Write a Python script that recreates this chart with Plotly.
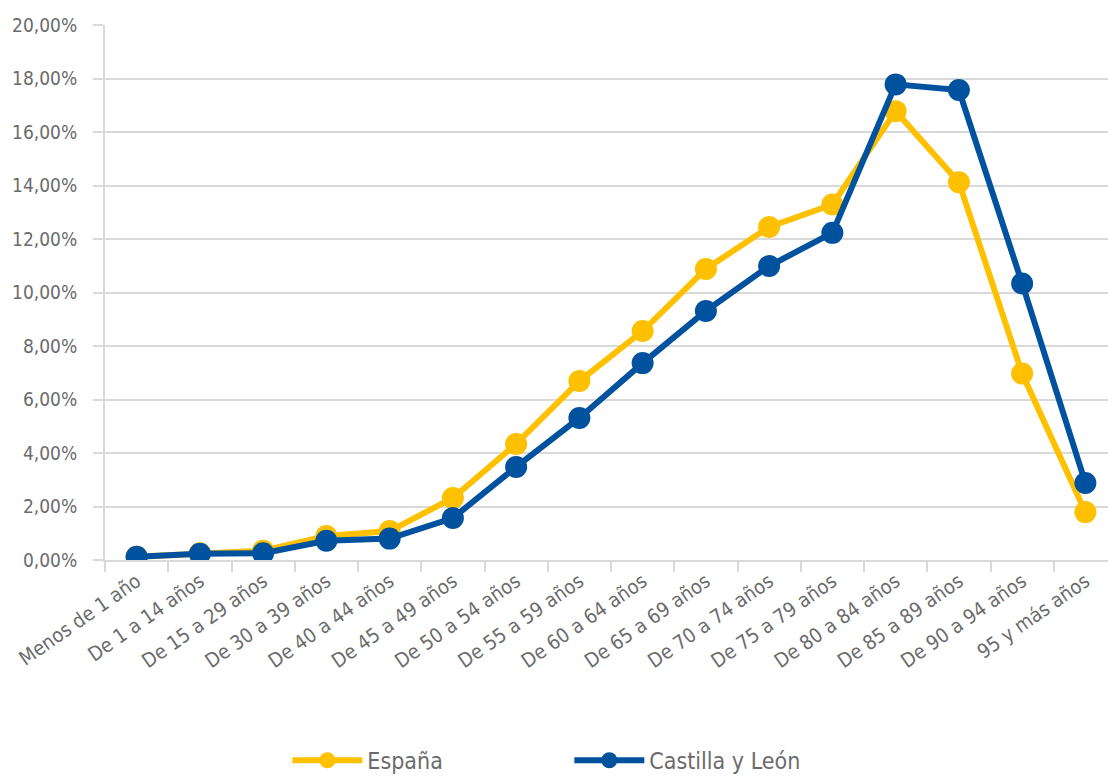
import plotly.graph_objects as go

# Age groups
grupos = ["Menos de 1 año", "De 1 a 14 años", "De 15 a 29 años", "De 30 a 39 años",
          "De 40 a 44 años", "De 45 a 49 años", "De 50 a 54 años", "De 55 a 59 años",
          "De 60 a 64 años", "De 65 a 69 años", "De 70 a 74 años", "De 75 a 79 años",
          "De 80 a 84 años", "De 85 a 89 años", "De 90 a 94 años", "95 y más años"]

# percentages
espana = [0.12, 0.25, 0.35, 0.90, 1.08, 2.32, 4.34, 6.69,
          8.56, 10.88, 12.45, 13.29, 16.78, 14.12, 6.97, 1.79]
castilla = [0.12, 0.23, 0.25, 0.72, 0.80, 1.57, 3.48, 5.31,
            7.36, 9.31, 10.99, 12.23, 17.78, 17.57, 10.34, 2.88]

ytick_vals = [0, 2, 4, 6, 8, 10, 12, 14, 16, 18, 20]
ytick_text = [f"{v},00%" for v in ytick_vals]

FONT = "DejaVu Sans Condensed, Liberation Sans Narrow, sans-serif"
GRID = "#D9D9D9"
TXT = "#6B6B6B"

fig = go.Figure()

fig.add_trace(go.Scatter(
    x=grupos, y=espana, name="España", mode="lines+markers",
    line=dict(color="#FFC000", width=6),
    marker=dict(size=22, color="#FFC000"),
))

fig.add_trace(go.Scatter(
    x=grupos, y=castilla, name="Castilla y León", mode="lines+markers",
    line=dict(color="#00519E", width=6),
    marker=dict(size=22, color="#00519E"),
))

# page body adds an 8px offset, margins compensate for it
fig.update_layout(
    width=1116, height=778,
    margin=dict(l=97, r=7, t=17, b=226, autoexpand=False),
    paper_bgcolor="white", plot_bgcolor="white",
    font=dict(family=FONT, color=TXT, size=19),
    showlegend=True,
    legend=dict(orientation="h", xref="container", yref="container",
                x=0.503, xanchor="center", y=0.033, yanchor="middle",
                font=dict(size=23, color=TXT), entrywidth=197,
                itemwidth=70),
)

fig.update_xaxes(
    type="category", range=[-0.5, 15.5], showgrid=False,
    showline=True, linecolor=GRID, linewidth=2,
    ticks="outside", tickson="boundaries", ticklen=10, tickcolor=GRID, tickwidth=2,
    tickangle=-35, tickfont=dict(size=20, color=TXT), automargin=False,
)

fig.update_yaxes(
    range=[0, 20], tickvals=ytick_vals, ticktext=ytick_text,
    showgrid=True, gridcolor=GRID, gridwidth=2, zeroline=False,
    showline=True, linecolor=GRID, linewidth=2,
    ticks="outside", ticklen=10, tickcolor=GRID, tickwidth=2,
    tickfont=dict(size=19, color=TXT), ticklabelstandoff=12, automargin=False,
)

fig.write_html("out.html")
